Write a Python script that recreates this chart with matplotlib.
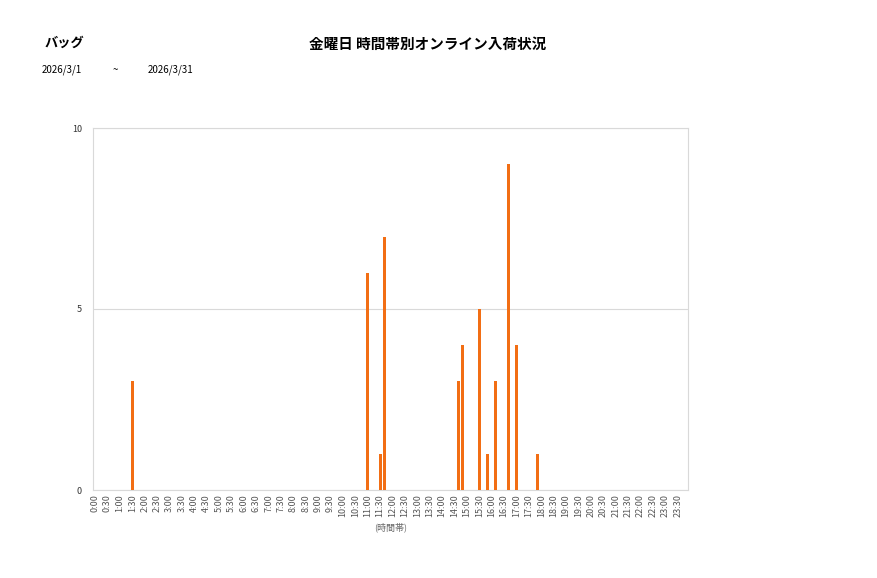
import numpy as np
import matplotlib
matplotlib.use("Agg")
import matplotlib.pyplot as plt

plt.rcParams['font.family'] = ['Noto Sans CJK JP', 'DejaVu Sans']

# 10-minute slots over the day
slots = ["%d:%02d" % (h, m) for h in range(24) for m in (0, 10, 20, 30, 40, 50)]
counts = {"1:30": 3, "11:00": 6, "11:30": 1, "11:40": 7,
          "14:40": 3, "14:50": 4, "15:30": 5, "15:50": 1,
          "16:10": 3, "16:40": 9, "17:00": 4, "17:50": 1}
values = [counts.get(s, 0) for s in slots]
tick_labels = slots[::3]

fig = plt.figure(figsize=(8.77, 5.78), dpi=100)
ax = fig.add_axes([93/877, 1-490/578, 595/877, 362/578])

x = np.arange(len(slots))
ax.bar(x, values, width=0.72, color="#F26E14", zorder=3)

ax.set_xlim(-0.5, len(slots)-0.5)
ax.set_ylim(0, 10)
ax.set_yticks([0, 5, 10])
ax.yaxis.grid(True, color="#d9d9d9", lw=0.8, zorder=0)
ax.set_xticks(x[::3])
ax.set_xticklabels(tick_labels, rotation=90, fontsize=6.5, color="#555555")
ax.tick_params(axis="y", labelsize=6.5, colors="#333333", length=0, pad=8)
ax.tick_params(axis="x", length=0, pad=3)
for s in ax.spines.values():
    s.set_color("#d9d9d9")
    s.set_linewidth(0.8)
ax.set_xlabel("(時間帯)", fontsize=6.5, color="#666666", labelpad=4)

fig.text(45/877, 1-43/578, "バッグ", fontsize=9.5, fontweight="bold", va="center")
fig.text(428/877, 1-44/578, "金曜日 時間帯別オンライン入荷状況", fontsize=10.5,
         fontweight="bold", ha="center", va="center")
fig.text(42/877, 1-70/578, "2026/3/1", fontsize=7, va="center")
fig.text(113/877, 1-70/578, "~", fontsize=7, va="center")
fig.text(148/877, 1-70/578, "2026/3/31", fontsize=7, va="center")

fig.savefig("out.png", dpi=100)
